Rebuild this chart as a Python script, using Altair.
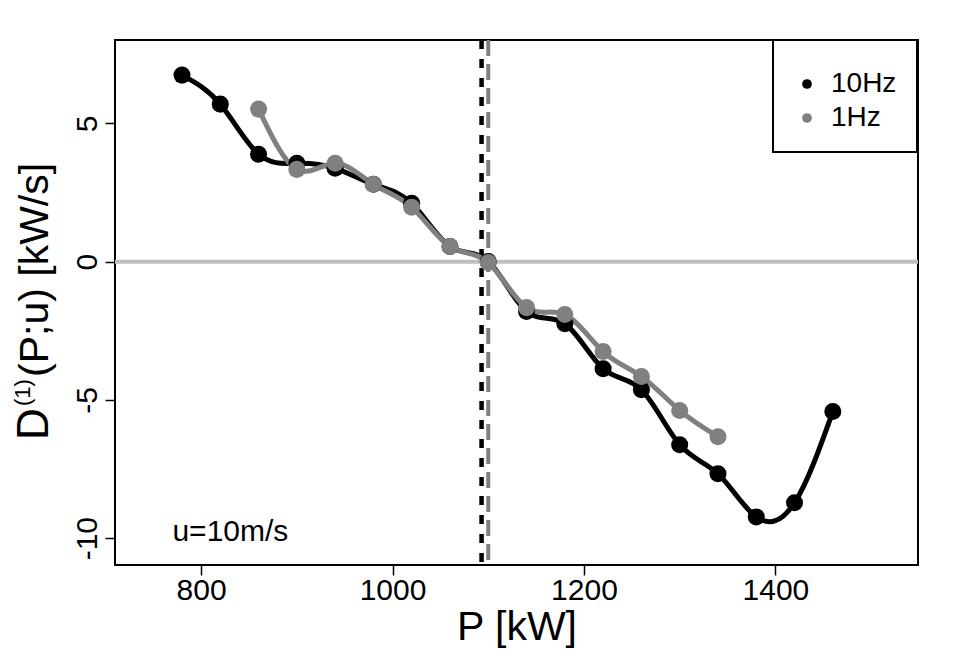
import altair as alt
import pandas as pd

# ---- data ----
p_10hz = [780, 820, 860, 900, 940, 980, 1020, 1060, 1100, 1140, 1180, 1220, 1260, 1300, 1340, 1380, 1420, 1460]
d_10hz = [6.75, 5.70, 3.89, 3.56, 3.38, 2.80, 2.11, 0.55, 0.01, -1.80, -2.24, -3.87, -4.63, -6.62, -7.67, -9.23, -8.72, -5.42]
p_1hz = [860, 900, 940, 980, 1020, 1060, 1100, 1140, 1180, 1220, 1260, 1300, 1340]
d_1hz = [5.52, 3.34, 3.56, 2.80, 1.97, 0.55, -0.03, -1.66, -1.91, -3.25, -4.15, -5.38, -6.33]
series_names = ["10Hz", "1Hz"]
series_colors = ["#000000", "#808080"]
vline_10hz = 1093
vline_1hz = 1100
x_ticks = [800, 1000, 1200, 1400]
y_ticks = [-10, -5, 0, 5]
x_domain = [710, 1549]
y_domain = [-10.97, 8.02]
note_text = "u=10m/s"
note_pos = (770, -10.1)
x_title = "P [kW]"
y_title_parts = ["D", "(1)", "(P;u) [kW/s]"]

rows = [{"P": p, "D": d, "series": "10Hz", "order": i} for i, (p, d) in enumerate(zip(p_10hz, d_10hz))]
rows += [{"P": p, "D": d, "series": "1Hz", "order": i} for i, (p, d) in enumerate(zip(p_1hz, d_1hz))]
df = pd.DataFrame(rows)

FONT = "Liberation Sans"

xs = alt.Scale(domain=x_domain, nice=False, zero=False)
ys = alt.Scale(domain=y_domain, nice=False, zero=False)
cs = alt.Scale(domain=series_names, range=series_colors)

x_axis = alt.Axis(values=x_ticks, title=x_title, grid=False, domain=False,
                  tickSize=10, tickWidth=1.5, tickColor="black",
                  labelFontSize=30, labelPadding=0, labelColor="black", labelFont=FONT,
                  labelExpr="'' + datum.value",
                  titleFontSize=41, titleFont=FONT, titleFontWeight="normal", titleColor="black",
                  titlePadding=2, labelFlush=False)
y_axis = alt.Axis(values=y_ticks, title=None, grid=False, domain=False,
                  tickSize=10, tickWidth=1.5, tickColor="black",
                  labelFontSize=30, labelAngle=-90, labelAlign="center", labelBaseline="bottom",
                  labelPadding=3, labelColor="black", labelFont=FONT,
                  labelExpr="'' + datum.value", labelFlush=False)

hline = alt.Chart(pd.DataFrame({"y": [0]})).mark_rule(color="#BEBEBE", strokeWidth=4).encode(
    y=alt.Y("y:Q", scale=ys, axis=y_axis)
)

vl_df = pd.DataFrame({"x": [vline_10hz, vline_1hz], "series": series_names})
vline_black = alt.Chart(vl_df.iloc[[0]]).mark_rule(color=series_colors[0], strokeWidth=4.5, strokeDash=[9, 10]).encode(
    x=alt.X("x:Q", scale=xs, axis=x_axis)
)
vline_grey = alt.Chart(vl_df.iloc[[1]]).mark_rule(color=series_colors[1], strokeWidth=4, strokeDash=[16, 8]).encode(
    x=alt.X("x:Q", scale=xs)
)

def series_line(name, color):
    return alt.Chart(df[df["series"] == name]).mark_line(
        strokeWidth=5, interpolate="natural", color=color
    ).encode(
        x=alt.X("P:Q", scale=xs),
        y=alt.Y("D:Q", scale=ys),
        order="order:Q",
    )

line_10 = series_line(series_names[0], series_colors[0])
line_1 = series_line(series_names[1], series_colors[1])

points = alt.Chart(df).mark_circle(size=290, opacity=1).encode(
    x=alt.X("P:Q", scale=xs),
    y=alt.Y("D:Q", scale=ys),
    color=alt.Color("series:N", scale=cs, legend=alt.Legend(
        title=" ", titleFontSize=6, titlePadding=4,
        orient="none", legendX=658, legendY=0,
        symbolType="circle", symbolSize=95, symbolStrokeWidth=0,
        labelFontSize=28, labelFont=FONT, labelColor="black", labelOffset=10,
        rowPadding=6, padding=20, strokeColor="black", fillColor="white",
        cornerRadius=0, symbolOpacity=1)),
)

note = alt.Chart(pd.DataFrame({"x": [note_pos[0]], "y": [note_pos[1]], "t": [note_text]})).mark_text(
    align="left", baseline="alphabetic", fontSize=30, font=FONT, color="black"
).encode(x=alt.X("x:Q", scale=xs), y=alt.Y("y:Q", scale=ys), text="t:N")

# y-axis title with raised "(1)"
yt_df = pd.DataFrame({"t": y_title_parts})
def ytitle_part(i, size, xpx, ypx):
    return alt.Chart(yt_df.iloc[[i]]).mark_text(
        angle=270, align="left", baseline="alphabetic", fontSize=size, font=FONT, color="black"
    ).encode(text="t:N", x=alt.value(xpx), y=alt.value(ypx))

yt_main1 = ytitle_part(0, 44, -67, 400)
yt_sup = ytitle_part(1, 22, -85, 366)
yt_main2 = ytitle_part(2, 41, -67, 337)

chart = alt.layer(hline, vline_black, vline_grey, line_10, line_1, points, note,
                  yt_main1, yt_sup, yt_main2).properties(
    width=803, height=525,
    autosize=alt.AutoSizeParams(type="none"),
    padding={"left": 107, "top": 32, "right": 34, "bottom": 98},
).configure_view(stroke="black", strokeWidth=2).configure_legend(strokeWidth=2)

chart.save("out.html", embed_options={"renderer": "svg", "actions": False})
